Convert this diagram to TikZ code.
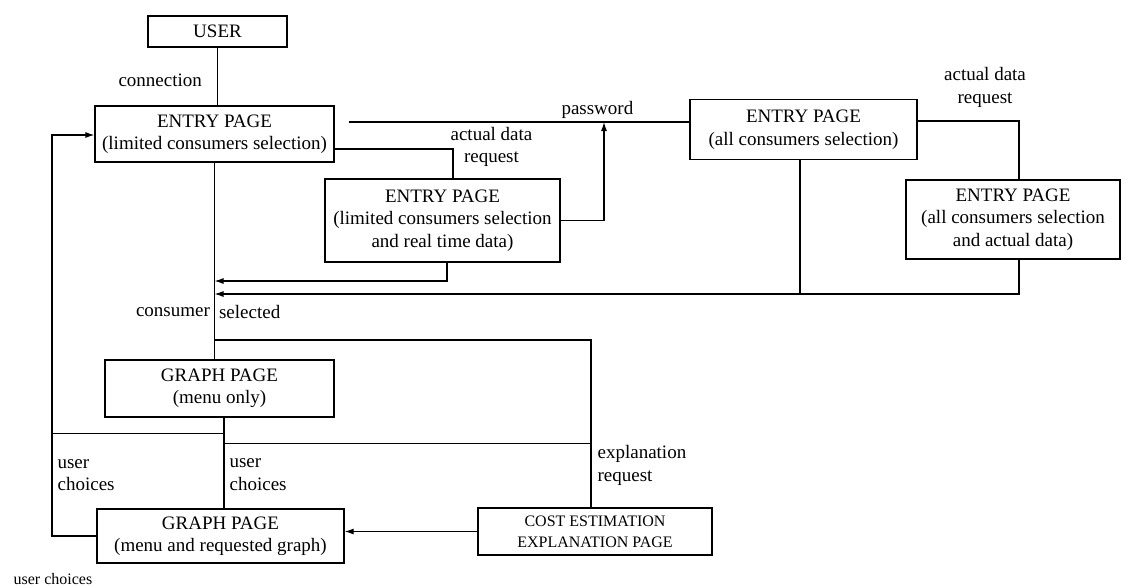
\documentclass[tikz,border=0pt]{standalone}
\usepackage{fontspec}
\setmainfont{Liberation Serif}
\usetikzlibrary{arrows.meta, positioning, calc}

\begin{document}
\begin{tikzpicture}[x=1pt, y=-1pt, >={Latex[length=9pt, width=6pt]},
    line width=1.2pt, font=\fontsize{19}{22.5}\selectfont,
    page/.style={draw, rectangle, align=center, inner sep=1pt},
    tag/.style={inner sep=1pt, align=center}]

    \useasboundingbox (0,0) rectangle (1126,587);

    % Pages
    \node[page, minimum width=139pt, minimum height=31pt] (user) at (217.5,31.5) {USER};
    \node[page, minimum width=239pt, minimum height=56pt] (entryA) at (214.5,134) {ENTRY PAGE\\(limited consumers selection)};
    \node[page, minimum width=227pt, minimum height=60pt] (entryB) at (803.5,129.5) {ENTRY PAGE\\(all consumers selection)};
    \node[page, minimum width=235pt, minimum height=83pt] (entryC) at (442.5,220.5) {ENTRY PAGE\\(limited consumers selection\\and real time data)};
    \node[page, minimum width=214pt, minimum height=79pt] (entryD) at (1013,219.5) {ENTRY PAGE\\(all consumers selection\\and actual data)};
    \node[page, minimum width=229pt, minimum height=57pt] (graphA) at (219.5,388.5) {GRAPH PAGE\\(menu only)};
    \node[page, minimum width=247pt, minimum height=54pt] (graphB) at (220.5,536) {GRAPH PAGE\\(menu and requested graph)};
    \node[page, minimum width=234pt, minimum height=47pt,
          font=\fontsize{16}{21}\selectfont] (cost) at (595,531.5) {COST ESTIMATION\\EXPLANATION PAGE};

    % Junctions
    \coordinate (pwJoin) at (604,122);
    \coordinate (pwStart) at ($(entryA.east |- pwJoin)+(14,0)$);
    \coordinate (reqA) at (453,149);
    \coordinate (reqB) at (1019,121);
    \coordinate (backC) at (entryA.south |- 0,281);
    \coordinate (backAll) at (entryA.south |- 0,294);
    \coordinate (explTop) at (entryA.south |- 0,340);
    \coordinate (explEnd) at ([xshift=-4pt]cost.north);
    \coordinate (splitL) at ($(graphA.south)+(4.5,16)$);
    \coordinate (splitR) at ($(graphA.south)+(4.5,26)$);
    \coordinate (loopTop) at (52,135);

    % Links between pages
    \draw (user.south) -- (user.south |- entryA.north)
        node[midway, left=14pt, yshift=-4pt, tag] {connection};
    \draw (pwStart) -- (entryB.west |- pwJoin)
        node[pos=0.73, above=2pt, tag] {password};
    \draw (entryA.east |- reqA) -- (reqA)
        node[right=-4pt, yshift=2pt, tag] {actual data\\request}
        -- (reqA |- entryC.north);
    \draw[->] (entryC.east) -| (pwJoin);
    \draw (entryB.east |- reqB) -- (reqB)
        node[above=12pt, xshift=-34pt, tag] {actual data\\request}
        -- (reqB |- entryD.north);
    \draw[->] ([xshift=4.5pt]entryC.south) |- (backC);
    \draw[->] ([xshift=6pt]entryD.south) |- (backAll);
    \draw ([xshift=-3.5pt]entryB.south) -- ([xshift=-3.5pt]entryB.south |- backAll);
    \draw (entryA.south) -- (entryA.south |- graphA.north)
        node[pos=0.76, left=3pt, tag] {consumer}
        node[pos=0.76, right=3pt, tag] {selected};
    \draw (explTop) -| (explEnd)
        node[pos=0.875, right=5pt, tag, align=left] {explanation\\request};
    \draw ([xshift=4.5pt]graphA.south) -- ([xshift=4.5pt]graphA.south |- graphB.north)
        node[pos=0.63, right=4pt, tag, align=left] {user\\choices};
    \draw (splitL) -- (loopTop |- splitL);
    \draw (splitR) -- (splitR -| explEnd);
    \draw[->] (graphB.west) -| (loopTop)
        node[pos=0.576, right=4pt, tag, align=left] {user\\choices}
        -- (entryA.west |- loopTop);
    \draw[->] (cost.west) -- (graphB.east |- cost.west);

    \node[tag, anchor=west, font=\fontsize{16}{20}\selectfont] (note) at (12,579) {user choices};

\end{tikzpicture}
\end{document}
